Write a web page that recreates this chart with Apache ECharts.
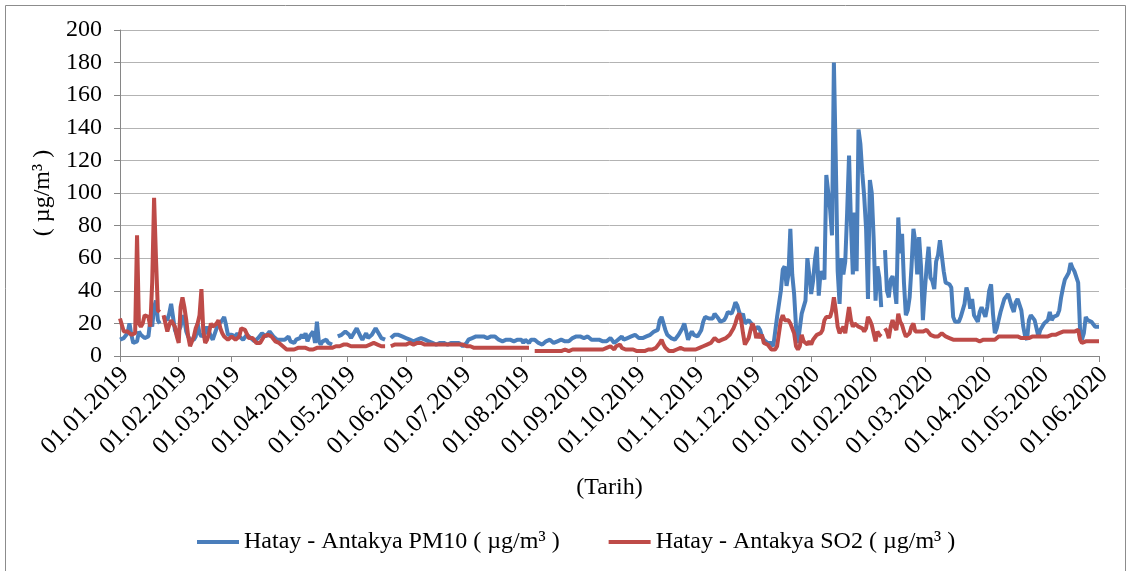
<!DOCTYPE html>
<html>
<head>
<meta charset="utf-8">
<script src="https://cdn.jsdelivr.net/npm/echarts@6/dist/echarts.min.js"></script>
<style>
  html, body { margin: 0; padding: 0; background: #fff; }
  #chart { width: 1132px; height: 571px; }
</style>
</head>
<body>
<div id="chart"></div>
<script>
// Daily PM10 readings, Hatay - Antakya (µg/m³); null = no measurement
const pm10_2019_01 = [10,10,11,12,14,20,13,8,8,9,15,13,14,11,12,12,22,18,30,34,22,20,null,24,23,22,26,32,24,16,13];
const pm10_2019_02 = [14,18,25,22,15,12,10,9,10,12,20,14,12,13,14,18,15,12,10,11,17,19,20,22,24,19,13,12];
const pm10_2019_03 = [13,12,12,14,12,11,10,11,13,12,11,10,9,10,11,12,14,13,12,11,15,14,12,11,10,11,10,9,10,11,12];
const pm10_2019_04 = [9,9,8,10,11,11,13,11,14,9,12,13,15,8,21,9,7,9,9,10,8,7,7,null,null,12,13,13,14,15];
const pm10_2019_05 = [15,13,11,11,15,17,18,12,10,10,14,11,11,13,15,17,15,13,11,10,10,null,null,11,11,13,13,13,12,12,11];
const pm10_2019_06 = [11,10,10,9,9,10,10,11,11,10,10,9,9,8,8,8,7,7,8,8,8,8,7,8,8,8,8,9,8,7];
const pm10_2019_07 = [6,7,8,10,11,11,12,12,12,12,13,12,11,11,12,12,11,12,13,10,9,9,10,10,10,10,10,9,9,10,10];
const pm10_2019_08 = [10,8,10,9,8,10,9,10,9,8,7,7,8,9,10,10,9,8,9,9,10,10,10,9,8,9,10,11,11,12,11];
const pm10_2019_09 = [12,12,11,12,12,11,10,11,10,10,10,10,9,9,9,9,11,12,8,9,10,11,12,10,10,11,12,12,13,13];
const pm10_2019_10 = [12,11,10,11,11,12,12,13,13,15,16,16,22,24,20,16,13,12,11,10,10,11,13,15,17,20,21,10,13,15,13];
const pm10_2019_11 = [12,12,13,16,21,24,24,23,22,23,26,25,23,21,21,22,24,27,26,26,29,33,31,27,24,26,20,21,22,23];
const pm10_2019_12 = [19,16,15,18,16,12,10,9,8,7,8,6,15,24,24,40,53,55,43,50,78,50,38,18,8,9,26,30,34,60,50];
const pm10_2020_01 = [38,46,59,67,37,52,53,47,111,110,90,74,180,120,52,32,60,50,58,88,123,82,50,88,52,139,130,112,98,78,35];
const pm10_2020_02 = [108,100,72,34,55,48,30,null,65,40,36,47,49,42,32,85,63,75,45,25,28,36,55,78,70,50,73,55,22];
const pm10_2020_03 = [40,55,67,48,46,41,58,62,71,71,52,45,45,44,42,24,21,22,21,24,28,32,42,38,29,35,25,24,21,27,30];
const pm10_2020_04 = [30,24,30,40,44,26,14,17,22,27,31,35,34,38,39,30,27,33,35,36,28,18,12,10,22,25,24,22,17,12];
const pm10_2020_05 = [16,18,20,19,22,27,22,24,23,25,28,36,42,47,49,51,57,54,52,53,45,16,10,14,24,22,22,21,20,18,19];
const pm10_2020_06 = [18];

// Daily SO2 readings, Hatay - Antakya (µg/m³)
const so2_2019_01 = [23,19,15,14,15,14,13,14,14,74,20,18,20,25,26,24,18,45,97,60,28,27,null,25,24,15,19,22,20,18,12];
const so2_2019_02 = [8,30,36,30,22,12,6,5,12,17,20,25,41,15,8,10,14,20,18,19,20,22,17,14,12,11,10,11];
const so2_2019_03 = [12,11,10,9,12,17,18,16,15,11,10,11,10,8,7,8,10,12,13,13,12,12,11,9,8,8,7,6,5,4,4];
const so2_2019_04 = [4,5,4,4,5,4,5,4,5,4,4,5,4,5,5,4,5,5,5,5,5,5,5,5,6,6,6,6,7,7];
const so2_2019_05 = [7,7,6,6,6,6,6,6,6,6,6,6,7,8,8,8,7,7,6,6,6,null,null,6,7,7,7,7,7,7,7];
const so2_2019_06 = [7,8,8,7,7,7,8,8,8,7,7,7,7,8,7,7,7,7,7,7,7,7,7,7,7,7,7,7,7,7];
const so2_2019_07 = [7,7,6,6,6,6,5,5,5,5,5,5,5,5,5,5,5,5,5,5,5,5,5,5,5,5,5,5,5,5,5];
const so2_2019_08 = [5,5,5,5,5,null,null,3,3,3,3,3,3,3,3,3,3,3,3,3,3,3,3,4,3,3,4,4,4,4,4];
const so2_2019_09 = [4,4,4,4,4,4,4,4,4,4,4,4,4,4,5,5,6,5,4,6,6,7,5,4,4,5,4,4,4,4];
const so2_2019_10 = [3,3,3,3,3,3,4,4,4,5,5,6,8,10,7,5,4,3,3,3,3,4,5,5,4,4,4,4,4,4,4];
const so2_2019_11 = [4,5,5,6,6,7,7,7,8,9,11,12,9,10,10,11,11,12,13,14,17,20,24,26,22,14,7,9,11,16];
const so2_2019_12 = [20,17,11,14,11,13,8,8,7,6,4,3,4,6,14,22,25,22,21,22,20,19,14,6,4,6,13,9,8,7,9];
const so2_2020_01 = [7,10,9,13,12,14,16,22,24,23,24,28,36,28,18,14,16,18,14,22,30,22,18,20,19,18,19,17,15,17,24];
const so2_2020_02 = [22,19,14,9,15,13,12,null,17,15,11,18,22,18,16,26,21,19,15,12,13,14,18,20,15,16,15,14,15];
const so2_2020_03 = [14,16,15,13,12,12,12,12,13,14,15,12,11,11,10,10,10,10,10,10,9,10,10,10,9,10,9,10,10,9,10];
const so2_2020_04 = [10,10,10,9,10,10,10,11,12,13,12,12,12,12,12,12,12,11,12,12,11,11,11,11,11,11,12,11,12,11];
const so2_2020_05 = [12,12,12,12,12,13,13,13,13,14,14,14,15,15,15,15,15,16,15,16,16,10,8,9,9,9,9,8,9,9,9];
const so2_2020_06 = [9];

const pm10 = [].concat(
  pm10_2019_01, pm10_2019_02, pm10_2019_03, pm10_2019_04, pm10_2019_05, pm10_2019_06,
  pm10_2019_07, pm10_2019_08, pm10_2019_09, pm10_2019_10, pm10_2019_11, pm10_2019_12,
  pm10_2020_01, pm10_2020_02, pm10_2020_03, pm10_2020_04, pm10_2020_05, pm10_2020_06
);
const so2 = [].concat(
  so2_2019_01, so2_2019_02, so2_2019_03, so2_2019_04, so2_2019_05, so2_2019_06,
  so2_2019_07, so2_2019_08, so2_2019_09, so2_2019_10, so2_2019_11, so2_2019_12,
  so2_2020_01, so2_2020_02, so2_2020_03, so2_2020_04, so2_2020_05, so2_2020_06
);

// Day labels DD.MM.YYYY starting 01.01.2019
const startDate = Date.UTC(2019, 0, 1);
const dayLabels = pm10.map(function (_, i) {
  const d = new Date(startDate + i * 86400000);
  const dd = String(d.getUTCDate()).padStart(2, '0');
  const mm = String(d.getUTCMonth() + 1).padStart(2, '0');
  return dd + '.' + mm + '.' + d.getUTCFullYear();
});

const seriesNames = ['Hatay - Antakya PM10 ( µg/m³ )', 'Hatay - Antakya SO2 ( µg/m³ )'];
const FONT = 'Liberation Serif';
const isMonthStart = function (idx, label) { return label.indexOf('01.') === 0; };

const chart = echarts.init(document.getElementById('chart'), null, { renderer: 'canvas' });
chart.setOption({
  animation: false,
  backgroundColor: '#ffffff',
  graphic: [{
    type: 'rect',
    shape: { x: 5.5, y: 5.5, width: 1120, height: 600 },
    style: { fill: 'none', stroke: '#8c8c8c', lineWidth: 1 },
    silent: true
  }],
  grid: { left: 120, right: 33, top: 30, bottom: 215, containLabel: false },
  legend: {
    data: seriesNames,
    left: 197,
    top: 530,
    padding: 0,
    icon: 'rect',
    itemWidth: 42,
    itemHeight: 4,
    itemGap: 49,
    textStyle: { fontFamily: FONT, fontSize: 24, color: '#000' }
  },
  xAxis: {
    type: 'category',
    data: dayLabels,
    boundaryGap: false,
    name: '(Tarih)',
    nameLocation: 'middle',
    nameGap: 120,
    nameTextStyle: { fontFamily: FONT, fontSize: 24, color: '#000' },
    axisLine: { lineStyle: { color: '#868686', width: 1 } },
    axisTick: { show: true, interval: isMonthStart, length: 6, lineStyle: { color: '#868686' } },
    axisLabel: {
      interval: isMonthStart,
      rotate: 45,
      margin: 20,
      padding: [0, -7, 0, 0],
      fontFamily: FONT,
      fontSize: 25,
      color: '#000'
    },
    splitLine: { show: false }
  },
  yAxis: {
    type: 'value',
    min: 0,
    max: 200,
    interval: 20,
    name: '( µg/m³ )',
    nameLocation: 'middle',
    nameGap: 59,
    nameTextStyle: { fontFamily: FONT, fontSize: 24, color: '#000' },
    axisLine: { show: true, lineStyle: { color: '#868686', width: 1 } },
    axisTick: { show: true, length: 6, lineStyle: { color: '#868686' } },
    axisLabel: { fontFamily: FONT, fontSize: 24, color: '#000', margin: 18 },
    splitLine: { show: true, lineStyle: { color: '#b3b3b3', width: 1 } }
  },
  series: [
    {
      name: seriesNames[0],
      type: 'line',
      data: pm10,
      showSymbol: false,
      connectNulls: false,
      color: '#4A7EBB',
      lineStyle: { width: 4, color: '#4A7EBB' }
    },
    {
      name: seriesNames[1],
      type: 'line',
      data: so2,
      showSymbol: false,
      connectNulls: false,
      color: '#BE4B48',
      lineStyle: { width: 4, color: '#BE4B48' }
    }
  ]
});
</script>
</body>
</html>
